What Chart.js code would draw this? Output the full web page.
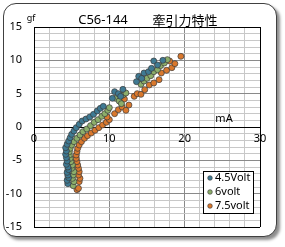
<!DOCTYPE html>
<html><head><meta charset="utf-8">
<script src="https://cdn.jsdelivr.net/npm/chart.js@4/dist/chart.umd.min.js"></script>
<style>
html,body{margin:0;padding:0;background:#fff;}
#wrap{position:relative;width:285px;height:247px;}
#frame{position:absolute;left:3px;top:3px;width:272px;height:232px;border:1.3px solid #404040;border-radius:13px;background:#fff;box-shadow:3px 3px 3px rgba(0,0,0,0.45);}
canvas{position:absolute;left:0;top:0;}
</style></head>
<body><div id="wrap"><div id="frame"></div><canvas id="c" width="285" height="247"></canvas></div>
<script>
const seriesNames = ['4.5Volt', '6volt', '7.5volt'];
const xTickLabels = [0, 10, 20, 30];
const yTickLabels = [-15, -10, -5, 0, 5, 10, 15];
const titleParts = ['C56-144', '牽引力特性'];
const yUnit = 'gf';
const xUnit = 'mA';

const v45x = [4.5,4.4,4.6,4.5,4.4,4.6,4.5,4.3,4.4,4.3,4.2,4.3,4.2, 4.4,4.6,4.8,5.0,5.3,5.6,6.0,6.4,6.9,7.4,7.9,8.4,8.8,9.2, 10.4,10.7,11.2,11.8,11.5, 13.6,13.9,14.3,14.6,15.2,15.6,15.9,16.4,17.1];
const v45y = [-8.5,-8.0,-7.6,-7.2,-6.8,-6.4,-6.0,-5.6,-5.1,-4.6,-4.1,-3.6,-3.1, -2.6,-2.1,-1.6,-1.1,-0.6,-0.1,0.4,0.9,1.2,1.5,1.9,2.4,2.8,3.1, 4.3,5.3,5.0,5.65,4.6, 6.8,7.6,7.3,8.1,8.3,8.8,9.9,9.3,10.0];

const v6x = [5.2,5.3,5.1,5.2,5.3,5.0,5.1,4.9,4.8,4.7,4.7,4.8, 5.0,5.3,5.7,6.1,6.5,7.0,7.5,8.0,8.5,9.0,9.4,9.8,10.0, 10.8,11.3,11.8,12.2,11.6, 14.2,14.6,15.0,15.5,15.9,16.4,16.8,17.3,17.7];
const v6y = [-8.8,-8.2,-7.7,-7.2,-6.7,-6.2,-5.7,-5.2,-4.7,-4.2,-3.7,-3.2, -2.7,-2.2,-1.7,-1.2,-0.7,-0.3,0.2,0.7,1.1,1.6,2.0,2.5,2.9, 4.3,3.9,4.8,5.1,3.5, 6.4,6.9,7.3,7.7,8.3,8.6,9.2,9.6,10.1];

const v75x = [5.7,5.9,6.0,6.1,5.9,6.0,5.9,5.8,5.7,5.6,5.6,5.7,5.8, 6.0,6.3,6.7,7.1,7.6,8.1,8.6,9.1,9.6,10.0,9.7, 10.7,11.2,11.7,12.2,12.6,11.5,12.0, 13.3,13.7,14.2,14.7,15.3,15.9,16.6,16.9,17.6,18.3,18.7,18.0,19.5];
const v75y = [-9.4,-9.2,-8.2,-7.7,-7.2,-6.7,-6.2,-5.7,-5.2,-4.7,-4.2,-3.7,-3.2, -2.7,-2.2,-1.7,-1.3,-0.9,-0.5,-0.1,0.3,0.7,1.1,1.5, 2.0,2.6,3.0,2.5,3.3,3.8,4.2, 4.6,5.0,4.9,5.6,6.3,6.6,7.1,8.1,8.5,8.9,9.5,9.9,10.6];

const colors = ['#3f7a93', '#8cae6a', '#d9782d'];
const pts = (xs, ys) => xs.map((x, i) => ({x: x, y: ys[i]}));
const seriesData = [pts(v45x, v45y), pts(v6x, v6y), pts(v75x, v75y)];

const FONT = "'Noto Sans', 'DejaVu Sans', sans-serif";
const CJK = "'Noto Sans CJK JP', sans-serif";

const overlay = {
  id: 'overlay',
  afterDraw(chart) {
    const ctx = chart.ctx;
    ctx.save();
    ctx.fillStyle = '#000';
    ctx.textBaseline = 'middle';
    ctx.textAlign = 'center';
    ctx.font = '13px ' + FONT;
    ctx.fillText(titleParts[0], 103, 20);
    ctx.font = '13px ' + CJK;
    ctx.fillText(titleParts[1], 185, 20);
    ctx.font = '9px ' + FONT;
    ctx.fillText(yUnit, 31, 18);
    ctx.font = '11px ' + FONT;
    ctx.fillText(xUnit, 224, 119);
    // legend
    const lx = 203, ly = 171, lw = 50, lh = 42;
    ctx.fillStyle = '#fff';
    ctx.fillRect(lx, ly, lw, lh);
    ctx.strokeStyle = '#000';
    ctx.lineWidth = 1;
    ctx.strokeRect(lx + 0.5, ly + 0.5, lw, lh);
    ctx.textAlign = 'left';
    ctx.font = '11px ' + FONT;
    seriesNames.forEach((n, i) => {
      const yy = ly + 7 + i * 14;
      ctx.beginPath();
      ctx.arc(lx + 7, yy, 2.3, 0, Math.PI * 2);
      ctx.fillStyle = colors[i];
      ctx.fill();
      ctx.strokeStyle = '#333';
      ctx.lineWidth = 0.6;
      ctx.stroke();
      ctx.fillStyle = '#000';
      ctx.fillText(n, lx + 12, yy);
    });
    ctx.restore();
  }
};

new Chart(document.getElementById('c'), {
  type: 'scatter',
  data: {
    datasets: seriesNames.map((n, i) => ({
      label: n,
      data: seriesData[i],
      backgroundColor: colors[i],
      borderColor: '#3a3a3a',
      borderWidth: 0.7,
      pointRadius: 3
    }))
  },
  options: {
    responsive: false,
    animation: false,
    devicePixelRatio: 1,
    layout: { padding: { top: 27, bottom: 20, right: 25, left: 0 } },
    plugins: { legend: { display: false }, tooltip: { enabled: false }, title: { display: false } },
    scales: {
      x: {
        type: 'linear',
        position: { y: 0 },
        min: 0, max: 30,
        ticks: {
          stepSize: 2,
          autoSkip: false,
          maxRotation: 0,
          padding: 5,
          color: '#000',
          font: { family: FONT, size: 11 },
          callback: v => xTickLabels.includes(v) ? String(v) : ''
        },
        grid: {
          drawTicks: false,
          color: c => {
            const v = c.tick ? c.tick.value : 0;
            if (v === 0 || v === 30) return '#000';
            return v % 10 === 0 ? '#8a8a8a' : '#c8c8c8';
          },
          lineWidth: 1
        },
        border: { color: '#000', width: 1 }
      },
      y: {
        type: 'linear',
        position: 'left',
        min: -15, max: 15,
        afterFit: s => { s.width = 34; },
        ticks: {
          stepSize: 1,
          autoSkip: false,
          padding: 12,
          color: '#000',
          font: { family: FONT, size: 11 },
          callback: v => yTickLabels.includes(v) ? String(v) : ''
        },
        grid: {
          drawTicks: false,
          color: c => {
            const v = c.tick ? c.tick.value : 0;
            if (v === 15 || v === -15) return '#000';
            return v % 5 === 0 ? '#8a8a8a' : '#c8c8c8';
          },
          lineWidth: 1
        },
        border: { color: '#000', width: 1 }
      }
    }
  },
  plugins: [overlay]
});
</script></body></html>
